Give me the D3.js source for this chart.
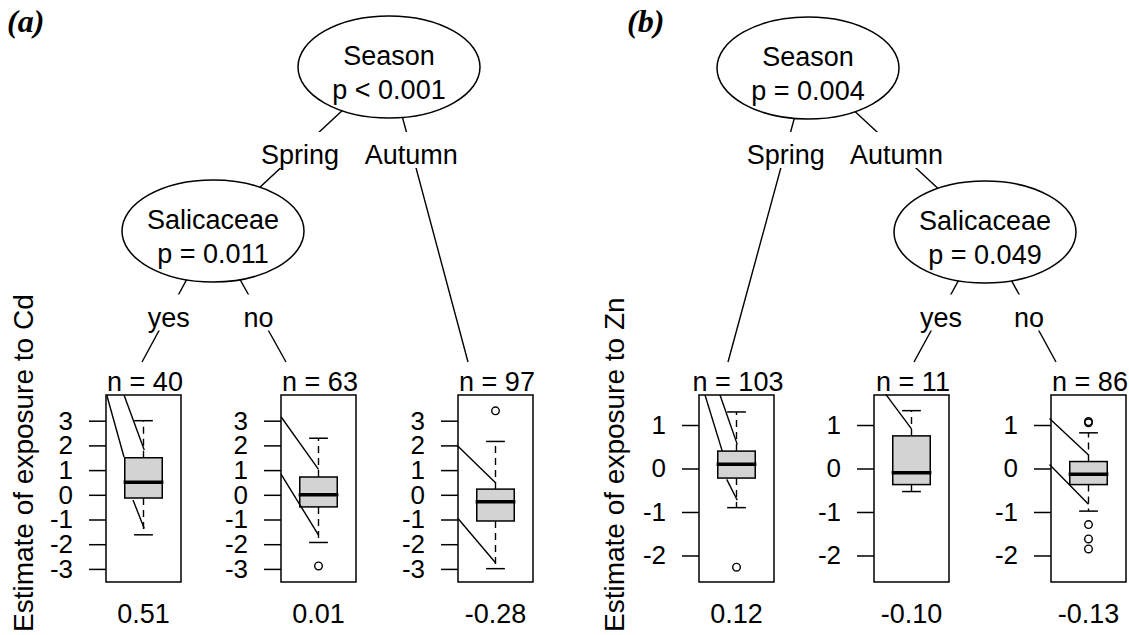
<!DOCTYPE html>
<html><head><meta charset="utf-8">
<script src="https://cdn.jsdelivr.net/npm/d3@7"></script>
<style>
body{margin:0;background:#fff}
svg{display:block}
text{font-family:Arial,"Liberation Sans",Helvetica,sans-serif;fill:#000}
</style>
</head><body>
<svg id="c" width="1129" height="635"></svg>
<script>
// ---------------- data ----------------
const panelTags = ["(a)", "(b)"];
const responseTitles = ["Estimate of exposure to Cd", "Estimate of exposure to Zn"];
const splitVariables = ["Season", "Salicaceae", "Season", "Salicaceae"];
const splitPValues = ["p < 0.001", "p = 0.011", "p = 0.004", "p = 0.049"];
// edges: parent inner node -> child (inner "i#" or leaf "l#"), with branch label
const edgeParents = ["i0", "i0", "i1", "i1", "i2", "i2", "i3", "i3"];
const edgeChildren = ["i1", "l2", "l0", "l1", "l3", "i3", "l4", "l5"];
const edgeLabels = ["Spring", "Autumn", "yes", "no", "Spring", "Autumn", "yes", "no"];

const leafPanel = [0, 0, 0, 1, 1, 1];
const leafN = [40, 63, 97, 103, 11, 86];
const leafEstimate = ["0.51", "0.01", "-0.28", "0.12", "-0.10", "-0.13"];
const leafLowerWhisker = [-1.62, -1.93, -2.99, -0.90, -0.53, -0.98];
const leafQ1 = [-0.13, -0.49, -1.06, -0.22, -0.37, -0.37];
const leafMedian = [0.51, 0.00, -0.28, 0.10, -0.10, -0.13];
const leafQ3 = [1.50, 0.72, 0.23, 0.40, 0.75, 0.16];
const leafUpperWhisker = [3.00, 2.29, 2.16, 1.30, 1.33, 0.82];
const leafOutliers = [[], [-2.88], [3.40], [-2.27], [], [1.05, 1.08, -1.29, -1.62, -1.85]];
// stray diagonal strokes visible inside the leaf panels: [xFrac0, value0, xFrac1, value1]
const leafStrayLines = [
  [[0.01, 4.04, 0.24, 1.53], [0.24, 4.04, 0.51, 1.81], [0.36, -0.21, 0.51, -1.36]],
  [[0.00, 3.16, 0.50, 1.03], [0.00, 0.84, 0.50, -1.63]],
  [[0.00, 1.97, 0.50, 0.49], [0.00, -0.96, 0.50, -2.75]],
  [[0.08, 1.69, 0.31, 0.40], [0.28, 1.69, 0.51, 0.555], [0.37, -0.25, 0.51, -0.73]],
  [[0.16, 1.70, 0.50, 0.91]],
  [[-0.02, 1.15, 0.50, 0.31], [-0.02, 0.09, 0.50, -0.82]]
];
const yTicksByPanel = [[-3, -2, -1, 0, 1, 2, 3], [-2, -1, 0, 1]];
const yDomainByPanel = [[-3.53, 4.04], [-2.61, 1.69]];

// ---------------- layout ----------------
const W = 1129, H = 635;
const FS = 27;
const TICK_FS = 26;
const innerPos = [[389, 67], [213, 231], [808, 68], [985, 232]];
const ellRx = 91, ellRy = 51;
const leafAnchor = [[142, 362], [286, 362], [468, 362], [728, 362], [914, 362], [1056, 362]];
const leafLeft = [106, 281, 458, 699, 874, 1051];
const leafW = 75, leafTop = 395, leafBottom = 582;
const labelLevel = {i0: 150, i1: 312.5, i2: 150, i3: 312.5};
const tagX = [7, 627];
const titleX = [33, 624];

const svg = d3.select("#c");
svg.append("rect").attr("width", W).attr("height", H).attr("fill", "#fff");

function pos(id) {
  const k = +id.slice(1);
  return id[0] === "i" ? innerPos[k] : leafAnchor[k];
}

// edges
const gEdges = svg.append("g");
const gLabels = svg.append("g");
edgeParents.forEach((p, i) => {
  const a = pos(p), b = pos(edgeChildren[i]);
  gEdges.append("line").attr("x1", a[0]).attr("y1", a[1]).attr("x2", b[0]).attr("y2", b[1])
    .attr("stroke", "#000").attr("stroke-width", 1.4);
  const ly = labelLevel[p];
  const lx = a[0] + (b[0] - a[0]) * (ly - a[1]) / (b[1] - a[1]);
  const r = gLabels.append("rect").attr("fill", "#fff");
  const t = gLabels.append("text").attr("x", lx).attr("y", ly + 14)
    .attr("text-anchor", "middle").attr("font-size", FS).text(edgeLabels[i]);
  const w = t.node().getComputedTextLength();
  r.attr("x", lx - w / 2 - 2).attr("y", ly - 18).attr("width", w + 4).attr("height", 36);
});

// inner nodes
innerPos.forEach((c, i) => {
  svg.append("ellipse").attr("cx", c[0]).attr("cy", c[1]).attr("rx", ellRx).attr("ry", ellRy)
    .attr("fill", "#fff").attr("stroke", "#000").attr("stroke-width", 1.5);
  svg.append("text").attr("x", c[0]).attr("y", c[1] - 2).attr("text-anchor", "middle")
    .attr("font-size", FS).text(splitVariables[i]);
  svg.append("text").attr("x", c[0]).attr("y", c[1] + 32).attr("text-anchor", "middle")
    .attr("font-size", FS).text(splitPValues[i]);
});

// leaves
leafN.forEach((n, i) => {
  const p = leafPanel[i];
  const x = d3.scaleLinear().domain([0, 1]).range([leafLeft[i], leafLeft[i] + leafW]);
  const y = d3.scaleLinear().domain(yDomainByPanel[p]).range([leafBottom, leafTop]);
  const g = svg.append("g");
  // axis
  const ax = g.append("g").attr("transform", `translate(${x(0)},0)`)
    .call(d3.axisLeft(y).tickValues(yTicksByPanel[p]).tickSize(17).tickPadding(16)
      .tickFormat(d => String(d)));
  ax.select(".domain").remove();
  ax.selectAll("line").attr("stroke", "#000").attr("stroke-width", 1.5);
  ax.selectAll("text").attr("font-size", TICK_FS).attr("font-family", "Arial, 'Liberation Sans', sans-serif").attr("fill", "#000");
  // panel frame
  g.append("rect").attr("x", x(0)).attr("y", y(yDomainByPanel[p][1]))
    .attr("width", x(1) - x(0)).attr("height", y(yDomainByPanel[p][0]) - y(yDomainByPanel[p][1]))
    .attr("fill", "none").attr("stroke", "#000").attr("stroke-width", 1.5);
  // whiskers
  [[leafQ3[i], leafUpperWhisker[i]], [leafQ1[i], leafLowerWhisker[i]]].forEach(([a, b]) => {
    g.append("line").attr("x1", x(0.5)).attr("x2", x(0.5)).attr("y1", y(a)).attr("y2", y(b))
      .attr("stroke", "#000").attr("stroke-width", 1.4).attr("stroke-dasharray", "7,5");
    g.append("line").attr("x1", x(0.375)).attr("x2", x(0.625)).attr("y1", y(b)).attr("y2", y(b))
      .attr("stroke", "#000").attr("stroke-width", 1.5);
  });
  // box
  g.append("rect").attr("x", x(0.25)).attr("y", y(leafQ3[i])).attr("width", x(0.75) - x(0.25))
    .attr("height", y(leafQ1[i]) - y(leafQ3[i])).attr("fill", "#d3d3d3")
    .attr("stroke", "#000").attr("stroke-width", 1.5);
  g.append("line").attr("x1", x(0.235)).attr("x2", x(0.765)).attr("y1", y(leafMedian[i])).attr("y2", y(leafMedian[i]))
    .attr("stroke", "#000").attr("stroke-width", 3.5);
  // outliers
  leafOutliers[i].forEach(v => {
    g.append("circle").attr("cx", x(0.5)).attr("cy", y(v)).attr("r", 3.8)
      .attr("fill", "none").attr("stroke", "#000").attr("stroke-width", 1.4);
  });
  // stray strokes
  leafStrayLines[i].forEach(s => {
    g.append("line").attr("x1", x(s[0])).attr("y1", y(s[1])).attr("x2", x(s[2])).attr("y2", y(s[3]))
      .attr("stroke", "#000").attr("stroke-width", 1.4);
  });
  // labels
  g.append("text").attr("x", x(0.52)).attr("y", leafTop - 4).attr("text-anchor", "middle")
    .attr("font-size", FS).text("n = " + n);
  g.append("text").attr("x", x(0.5)).attr("y", 623).attr("text-anchor", "middle")
    .attr("font-size", FS).text(leafEstimate[i]);
});

// panel tags and y titles
panelTags.forEach((t, k) => {
  svg.append("text").attr("x", tagX[k]).attr("y", 32)
    .style("font-family", "'Liberation Serif','Times New Roman',serif")
    .attr("font-weight", "bold").attr("font-style", "italic").attr("font-size", 32).text(t);
  svg.append("text").attr("transform", `translate(${titleX[k]},632) rotate(-90)`)
    .attr("text-anchor", "start").attr("font-size", 28).text(responseTitles[k]);
});
</script>
</body></html>
